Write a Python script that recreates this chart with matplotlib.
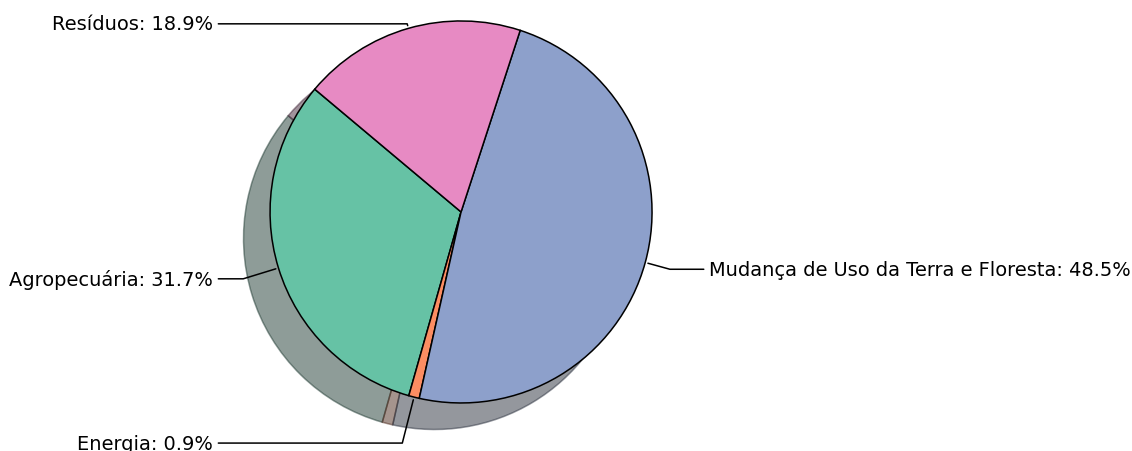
import matplotlib
matplotlib.use('Agg')
import matplotlib.pyplot as plt
import numpy as np

plt.rcParams['font.family'] = 'DejaVu Sans'

# emissions share by sector
sectors = ['Agropecuária', 'Energia', 'Mudança de Uso da Terra e Floresta', 'Resíduos']
shares = [31.7, 0.9, 48.5, 18.9]
colors = plt.get_cmap('Set2').colors[:4]

# label heights (data units), picked by eye
label_y = [-0.35, -1.21, -0.30, 0.985]

fig = plt.figure(figsize=(11.32, 4.52), dpi=100)
ax = fig.add_axes([0, 0, 1, 1])

wedges, _ = ax.pie(shares, colors=colors, startangle=140,
                   wedgeprops=dict(edgecolor='black', linewidth=1.1),
                   shadow={'ox': -0.1, 'oy': -0.1})

for i, w in enumerate(wedges):
    ang = (w.theta2 - w.theta1) / 2.0 + w.theta1
    x = np.cos(np.deg2rad(ang))
    y = np.sin(np.deg2rad(ang))
    ha = 'left' if x > 0 else 'right'
    ax.annotate(f'{sectors[i]}: {shares[i]}%', xy=(x, y),
                xytext=(1.3 * np.sign(x), label_y[i]),
                ha=ha, va='center', fontsize=13.95,
                arrowprops=dict(arrowstyle='-', color='black', lw=1.1,
                                connectionstyle=f'angle,angleA=0,angleB={ang}'))

ax.set_xlim(-2.414, 3.513)
ax.set_ylim(-1.2515, 1.115)
ax.set_aspect('auto')
ax.axis('off')

fig.savefig('out.png', dpi=100)
